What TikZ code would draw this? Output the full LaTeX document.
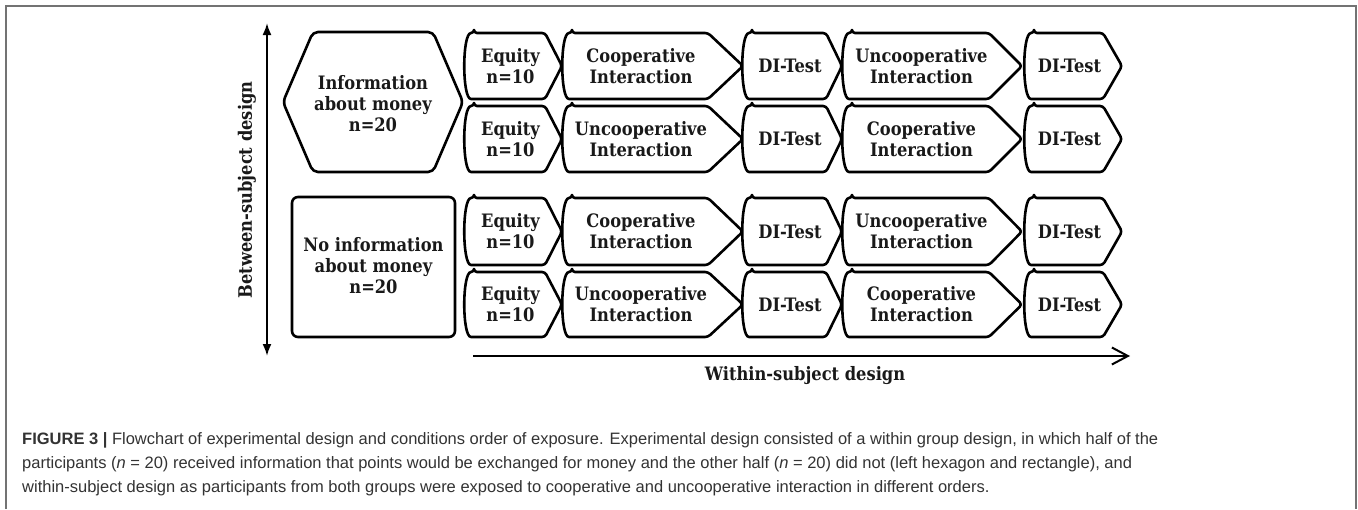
\documentclass[tikz,border=0pt]{standalone}
\usepackage{fontspec}
\setmainfont{Liberation Sans}
\newfontfamily\boxfont{DejaVu Serif}[FakeStretch=0.88]
\usetikzlibrary{arrows.meta}
% #1 name, #2 L, #3 R, #4 T, #5 B, #6 tip depth, #7 text
\newcommand{\chevbox}[7]{%
  \draw[boxline] ({#2+9},#4) -- ({#3-#6},#4) -- (#3,{(#4+#5)/2}) -- ({#3-#6},#5) -- ({#2+9},#5)
     .. controls ({#2-3},#5) and ({#2-3},#4) .. cycle;
  \node[boxtext] (#1) at ({(#2+9+#3-#6)/2+1},{(#4+#5)/2}) {#7};
}
\begin{document}
\begin{tikzpicture}[x=1pt,y=-1pt,
  boxline/.style={draw=black, line width=2.6pt, rounded corners=3pt, line join=round},
  boxtext/.style={font=\boxfont\bfseries\fontsize{18.5}{21}\selectfont, align=center, inner sep=0pt, text=black!90},
  capline/.style={anchor=base west, inner sep=0pt, font=\fontsize{16.5}{24}\selectfont, text=black!80},
  framecol/.style={draw=black!55, line width=1.5pt}]
\useasboundingbox[fill=white] (0,0) rectangle (1358,509);
% outer frame
\draw[framecol] (6,509) -- (6,6) -- (1356,6) -- (1356,509);
% between-subject arrow
\coordinate (vtop) at (267,23);
\coordinate (vbot) at (267,356);
\draw[line width=2pt, {Latex[length=12pt,width=9pt]}-{Latex[length=12pt,width=9pt]}] (vtop) -- (vbot);
\node[boxtext, rotate=90] (betw) at (247,190) {Between-subject design};
% within-subject arrow
\coordinate (hstart) at (473,356);
\coordinate (hend) at (1130,356);
\draw[line width=2pt, -{Straight Barb[length=16pt,width=17pt]}] (hstart) -- (hend);
\node[boxtext] (within) at (805,376) {Within-subject design};
% hexagon
\draw[boxline, rounded corners=5pt] (373,32) -- (433,32) -- (463,102) -- (433,172) -- (313,172) -- (283,102) -- (313,32) -- cycle;
\node[boxtext] (infohex) at (373,104) {Information\\about money\\n=20};
% rectangle
\draw[boxline, rounded corners=6pt] (292,197) rectangle (455,337);
\node[boxtext] (noinfo) at (373.5,266) {No information\\about money\\n=20};
% row 1
\chevbox{eq1}{465}{562}{33}{99}{17}{Equity\\n=10}
\chevbox{ia1}{563}{743}{33}{99}{35}{Cooperative\\Interaction}
\chevbox{dia1}{743}{842}{33}{99}{16}{DI-Test}
\chevbox{ib1}{843}{1022}{33}{99}{33}{Uncooperative\\Interaction}
\chevbox{dib1}{1025}{1122}{33}{99}{19}{DI-Test}
% row 2
\chevbox{eq2}{465}{562}{106}{172}{17}{Equity\\n=10}
\chevbox{ia2}{563}{743}{106}{172}{35}{Uncooperative\\Interaction}
\chevbox{dia2}{743}{842}{106}{172}{16}{DI-Test}
\chevbox{ib2}{843}{1022}{106}{172}{33}{Cooperative\\Interaction}
\chevbox{dib2}{1025}{1122}{106}{172}{19}{DI-Test}
% row 3
\chevbox{eq3}{465}{562}{198}{265}{17}{Equity\\n=10}
\chevbox{ia3}{563}{743}{198}{265}{35}{Cooperative\\Interaction}
\chevbox{dia3}{743}{842}{198}{265}{16}{DI-Test}
\chevbox{ib3}{843}{1022}{198}{265}{33}{Uncooperative\\Interaction}
\chevbox{dib3}{1025}{1122}{198}{265}{19}{DI-Test}
% row 4
\chevbox{eq4}{465}{562}{272}{337}{17}{Equity\\n=10}
\chevbox{ia4}{563}{743}{272}{337}{35}{Uncooperative\\Interaction}
\chevbox{dia4}{743}{842}{272}{337}{16}{DI-Test}
\chevbox{ib4}{843}{1022}{272}{337}{33}{Cooperative\\Interaction}
\chevbox{dib4}{1025}{1122}{272}{337}{19}{DI-Test}
% caption
\node[capline] (cap1) at (22,444) {\textbf{FIGURE 3 |} Flowchart of experimental design and conditions order of exposure. Experimental design consisted of a within group design, in which half of the};
\node[capline] (cap2) at (22,468) {participants (\textit{n} = 20) received information that points would be exchanged for money and the other half (\textit{n} = 20) did not (left hexagon and rectangle), and};
\node[capline] (cap3) at (22,492) {within-subject design as participants from both groups were exposed to cooperative and uncooperative interaction in different orders.};
\end{tikzpicture}
\end{document}
